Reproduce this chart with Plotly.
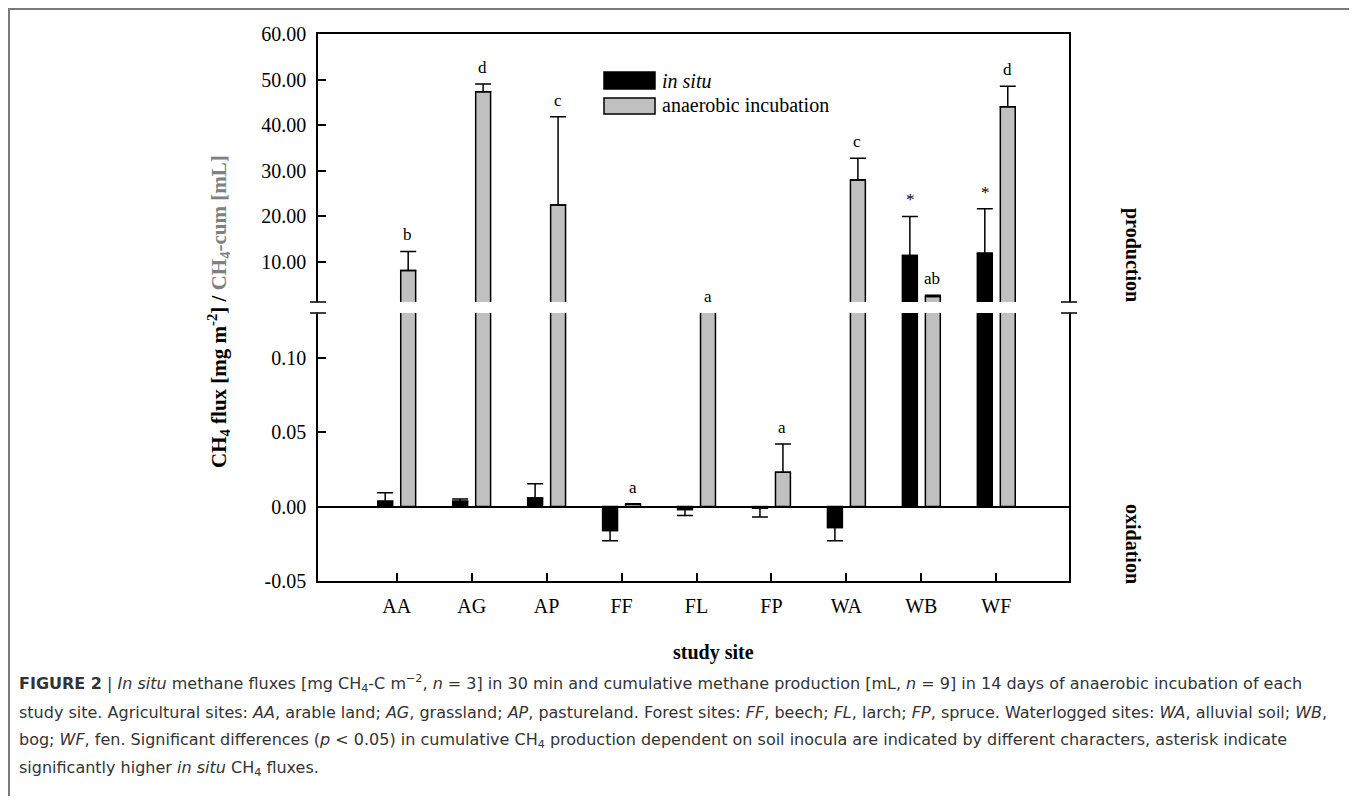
import plotly.graph_objects as go

# ---------------- data ----------------
sites = ["AA", "AG", "AP", "FF", "FL", "FP", "WA", "WB", "WF"]
in_situ = [0.0035, 0.0035, 0.0058, -0.016, -0.002, -0.001, -0.014, 11.3, 11.8]
in_situ_err = [0.0057, 0.0015, 0.0096, 0.007, 0.004, 0.006, 0.009, 8.6, 9.8]
anaerobic = [8.0, 47.3, 22.4, 0.0015, 0.6, 0.023, 27.9, 2.3, 44.0]
anaerobic_err = [4.2, 1.7, 19.4, 0.0004, 0.3, 0.019, 4.8, 0.3, 4.5]
anaerobic_labels = ["b", "d", "c", "a", "a", "a", "c", "ab", "d"]
in_situ_labels = ["", "", "", "", "", "", "", "*", "*"]

upper_ticks = [10, 20, 30, 40, 50, 60]
upper_ticktext = ["10.00", "20.00", "30.00", "40.00", "50.00", "60.00"]
lower_ticks = [-0.05, 0.0, 0.05, 0.10]
lower_ticktext = ["-0.05", "0.00", "0.05", "0.10"]

UPPER_RANGE = [1.1, 60]
LOWER_RANGE = [-0.05, 0.13]

OFF = 8  # page body margin
W, H = 1357 - OFF, 804 - 2 * OFF
L, R, T, B = 318 - OFF, 1069 - OFF, 34 - OFF, 581 - OFF
PW, PH = R - L, B - T


def px(x):
    return (x - OFF - L) / PW


def py(y):
    return (B - (y - OFF)) / PH


up_dom = [py(302), 1.0]
lo_dom = [0.0, py(313)]

SERIF = "Liberation Serif, Times New Roman, serif"
SANS = "DejaVu Sans, Arial, sans-serif"
GRAY = "#c0c0c0"


def plus_err(vals, errs):
    return [e if v >= 0 else 0 for v, e in zip(vals, errs)]


def minus_err(vals, errs):
    return [e if v < 0 else 0 for v, e in zip(vals, errs)]


fig = go.Figure()

for xa, ya in [("x", "y"), ("x2", "y2")]:
    fig.add_trace(go.Bar(
        x=sites, y=in_situ, name="in situ", xaxis=xa, yaxis=ya,
        marker=dict(color="black", line=dict(color="black", width=1.5)),
        error_y=dict(type="data", symmetric=False,
                     array=plus_err(in_situ, in_situ_err),
                     arrayminus=minus_err(in_situ, in_situ_err),
                     color="black", thickness=1.5, width=8),
        showlegend=False, offsetgroup="a",
    ))
    fig.add_trace(go.Bar(
        x=sites, y=anaerobic, name="anaerobic incubation", xaxis=xa, yaxis=ya,
        marker=dict(color=GRAY, line=dict(color="black", width=1.5)),
        error_y=dict(type="data", symmetric=False,
                     array=plus_err(anaerobic, anaerobic_err),
                     arrayminus=minus_err(anaerobic, anaerobic_err),
                     color="black", thickness=1.5, width=8),
        showlegend=False, offsetgroup="b",
    ))

# significance letters
annotations = []


def add_label(site, top, text, shift):
    if not text:
        return
    if top >= UPPER_RANGE[0]:
        yref, yv = "y2", top
    else:
        yref, yv = "y", min(top, LOWER_RANGE[1])
    annotations.append(dict(
        x=site, y=yv, xref="x", yref=yref, text=text, showarrow=False,
        xshift=shift, yshift=5, xanchor="center", yanchor="bottom",
        font=dict(family=SERIF, size=17, color="black"),
    ))


for s, v, e, t in zip(sites, anaerobic, anaerobic_err, anaerobic_labels):
    add_label(s, v + e, t, 11)
for s, v, e, t in zip(sites, in_situ, in_situ_err, in_situ_labels):
    add_label(s, v + e, t, -11)


def paper_text(x, y, text, size=20, angle=0, xanchor="center", family=SERIF,
               color="black"):
    annotations.append(dict(
        x=px(x), y=py(y), xref="paper", yref="paper", text=text,
        textangle=angle, showarrow=False, xanchor=xanchor, yanchor="middle",
        font=dict(family=family, size=size, color=color),
    ))


# axis titles and side labels
paper_text(218, 312,
           "<b>CH<sub>4</sub> flux [mg m<sup>-2</sup>] / "
           "<span style='color:#808080'>CH<sub>4</sub>-cum [mL]</span></b>",
           size=21, angle=-90)
paper_text(713, 652, "<b>study site</b>")
paper_text(1133, 255, "<b>production</b>", angle=90)
paper_text(1133, 544, "<b>oxidation</b>", angle=90)

# legend (manual)
paper_text(660, 81, "<i>in situ</i>", xanchor="left")
paper_text(660, 105, "anaerobic incubation", xanchor="left")

# caption
caption_lines = [
    "<b>FIGURE 2</b> | <i>In situ</i> methane fluxes [mg CH<sub>4</sub>-C m<sup>\u22122</sup>, <i>n</i> = 3] in 30 min and cumulative methane production [mL, <i>n</i> = 9] in 14 days of anaerobic incubation of each",
    "study site. Agricultural sites: <i>AA</i>, arable land; <i>AG</i>, grassland; <i>AP</i>, pastureland. Forest sites: <i>FF</i>, beech; <i>FL</i>, larch; <i>FP</i>, spruce. Waterlogged sites: <i>WA</i>, alluvial soil; <i>WB</i>,",
    "bog; <i>WF</i>, fen. Significant differences (<i>p</i> &lt; 0.05) in cumulative CH<sub>4</sub> production dependent on soil inocula are indicated by different characters, asterisk indicate",
    "significantly higher <i>in situ</i> CH<sub>4</sub> fluxes.",
]
caption_y = [683, 712, 740, 768]
for line, yy in zip(caption_lines, caption_y):
    paper_text(17, yy, line, size=16, xanchor="left", family=SANS,
               color="#333333")

shapes = []
# legend swatches
shapes.append(dict(type="rect", xref="paper", yref="paper",
                   x0=px(604), x1=px(655), y0=py(89), y1=py(72),
                   fillcolor="black", line=dict(color="black", width=1.5)))
shapes.append(dict(type="rect", xref="paper", yref="paper",
                   x0=px(604), x1=px(655), y0=py(114), y1=py(98),
                   fillcolor=GRAY, line=dict(color="black", width=1.5)))
# axis break marks
for xc in (0.0, 1.0):
    for yc in (up_dom[0], lo_dom[1]):
        shapes.append(dict(type="line", xref="paper", yref="paper",
                           x0=xc - 8 / PW, x1=xc + 8 / PW, y0=yc, y1=yc,
                           line=dict(color="black", width=1.5)))
# outer frame
shapes.append(dict(type="rect", xref="paper", yref="paper",
                   x0=px(9), x1=px(1354), y0=py(830), y1=py(9),
                   line=dict(color="#7a7a7a", width=2), fillcolor="rgba(0,0,0,0)"))

axis_common = dict(showline=True, linecolor="black", linewidth=1.5,
                   showgrid=False, ticks="inside", ticklen=8, tickwidth=1.5,
                   tickcolor="black", ticklabelstandoff=6,
                   tickfont=dict(family=SERIF, size=20, color="black"))

fig.update_layout(
    width=W, height=H,
    margin=dict(l=L, r=W - R, t=T, b=H - B, autoexpand=False),
    paper_bgcolor="white", plot_bgcolor="white",
    barmode="group", bargap=0.387, bargroupgap=0.35,
    showlegend=False,
    xaxis=dict(domain=[0, 1], anchor="y", type="category", range=[-1.05, 8.97],
               **axis_common),
    xaxis2=dict(domain=[0, 1], anchor="y2", type="category", range=[-1.05, 8.97],
                matches="x", side="top", showline=True, linecolor="black",
                linewidth=1.5, ticks="", showticklabels=False, showgrid=False),
    yaxis=dict(domain=lo_dom, anchor="x", range=LOWER_RANGE, tickvals=lower_ticks,
               ticktext=lower_ticktext, mirror=True, zeroline=True,
               zerolinecolor="black", zerolinewidth=1.5, **axis_common),
    yaxis2=dict(domain=up_dom, anchor="x2", range=UPPER_RANGE, tickvals=upper_ticks,
                ticktext=upper_ticktext, mirror=True, zeroline=False, **axis_common),
    annotations=annotations,
    shapes=shapes,
)

fig.write_html("out.html")
